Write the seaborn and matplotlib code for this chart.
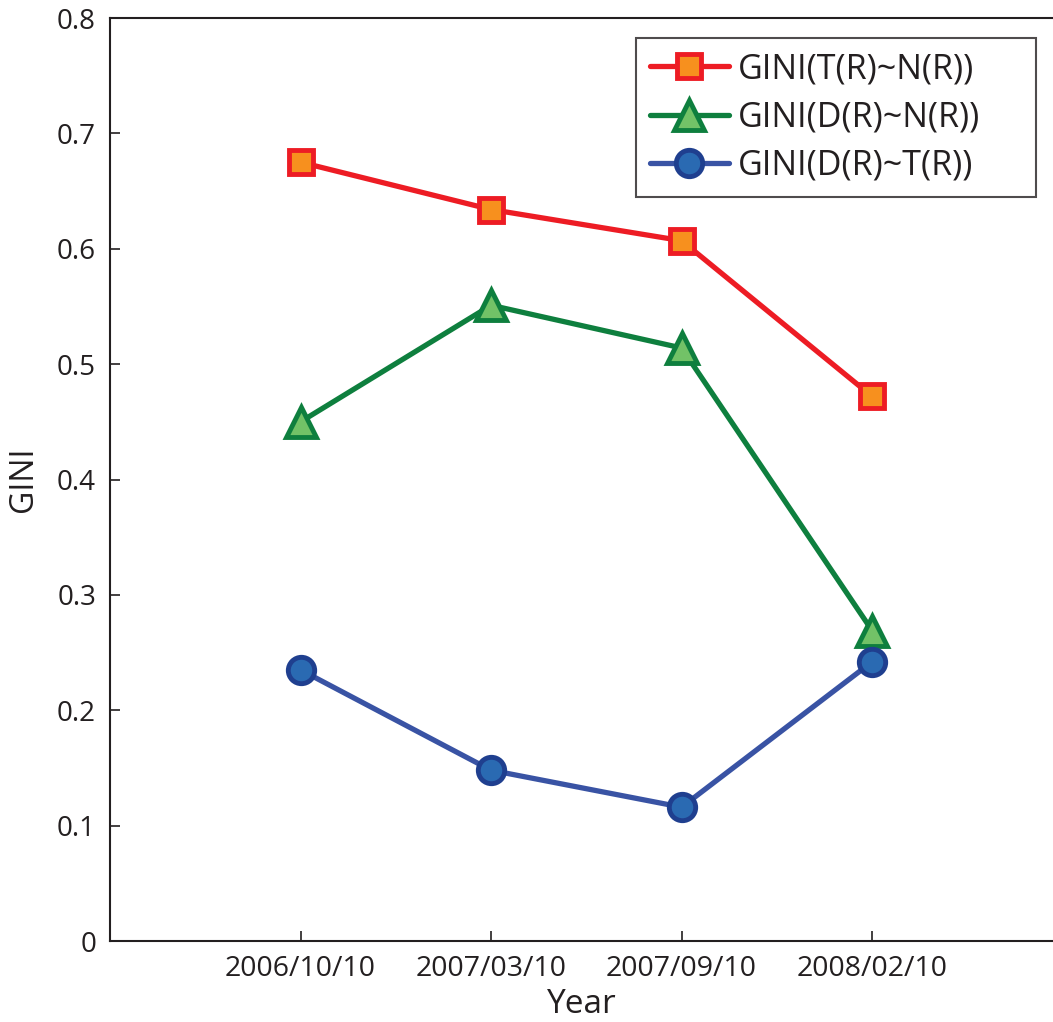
import matplotlib
matplotlib.use("Agg")
import matplotlib.pyplot as plt
import seaborn as sns
import pandas as pd

dates = ["2006/10/10", "2007/03/10", "2007/09/10", "2008/02/10"]
gini_tn = [0.675, 0.634, 0.607, 0.472]
gini_dn = [0.450, 0.551, 0.514, 0.269]
gini_dt = [0.235, 0.148, 0.116, 0.242]
yticks = [0, 0.1, 0.2, 0.3, 0.4, 0.5, 0.6, 0.7, 0.8]

sns.set_theme(style="ticks")
plt.rcParams['font.family'] = ['Open Sans', 'DejaVu Sans']

W, H = 1053, 1022
AW, AH = 1053 - 110, 941 - 18
fig = plt.figure(figsize=(W / 100, H / 100), dpi=100)
ax = fig.add_axes([110 / W, (H - 941) / H, AW / W, AH / H])

pos = [1, 2, 3, 4]
series = [
    ("GINI(T(R)~N(R))", gini_tn, "s", "#ED1C24", "#F7901E", "#ED1C24", 17),
    ("GINI(D(R)~N(R))", gini_dn, "^", "#0E7F3E", "#72C267", "#0E7F3E", 21),
    ("GINI(D(R)~T(R))", gini_dt, "o", "#3953A4", "#2A6AB2", "#1F3F8F", 19),
]
for label, vals, mk, lc, fc, ec, ms in series:
    df = pd.DataFrame({"x": pos, "y": vals})
    sns.lineplot(data=df, x="x", y="y", ax=ax, color=lc, linewidth=3.8,
                 marker=mk, markersize=ms, markerfacecolor=fc,
                 markeredgecolor=ec, markeredgewidth=3.5, label=label)

ax.set_xlim(0, 4 + 181 / 190.7)
ax.set_ylim(0, 0.8)
ax.set_xticks(pos)
ax.set_xticklabels(dates, fontsize=20.5)
ax.set_yticks(yticks)
ax.set_yticklabels([f"{v:g}" for v in yticks], fontsize=20)
ax.tick_params(direction="in", length=7, width=1.2, colors="#231F20", pad=10)
ax.set_xlabel("Year", fontsize=24, color="#231F20", labelpad=4)
ax.set_ylabel("GINI", fontsize=23, color="#231F20", labelpad=12)
for s in ["left", "bottom", "top"]:
    ax.spines[s].set_linewidth(1.5)
    ax.spines[s].set_color("#231F20")
ax.spines["right"].set_visible(False)

lx0 = (636 - 110) / AW
lw = (1036 - 636) / AW
ly1 = 1 - (38 - 18) / AH
lh = (195 - 38) / AH
leg = ax.legend(loc="upper left", bbox_to_anchor=(lx0, ly1 - lh, lw, lh), mode="expand",
                fontsize=24.5, frameon=True, fancybox=False, edgecolor="#231F20",
                handlelength=2.3, handletextpad=0.27, borderpad=0.42, labelspacing=0.42,
                borderaxespad=0)
leg.get_frame().set_linewidth(1.5)
for t in leg.get_texts():
    t.set_color("#231F20")

fig.savefig("out.png", dpi=100)
